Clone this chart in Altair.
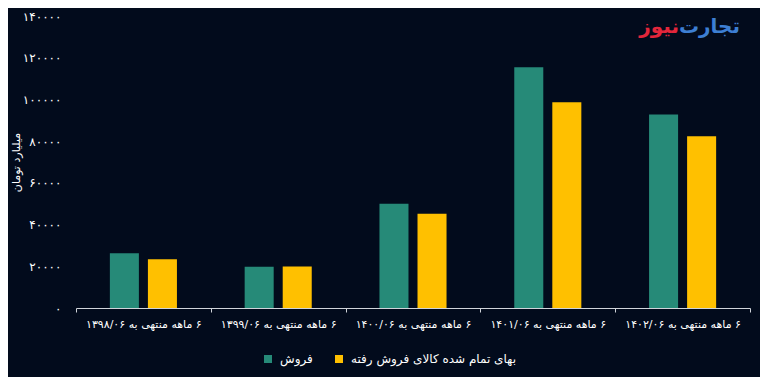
import altair as alt
import pandas as pd

RLM = "\u200f"
periods = [
    RLM + "۶ ماهه منتهی به ۱۳۹۸/۰۶",
    RLM + "۶ ماهه منتهی به ۱۳۹۹/۰۶",
    RLM + "۶ ماهه منتهی به ۱۴۰۰/۰۶",
    RLM + "۶ ماهه منتهی به ۱۴۰۱/۰۶",
    RLM + "۶ ماهه منتهی به ۱۴۰۲/۰۶",
]
series_names = ["فروش", "بهای تمام شده کالای فروش رفته"]
sales = [26200, 19800, 50000, 115400, 92800]
cogs = [23400, 19900, 45200, 98700, 82400]
series_colors = ["#268a78", "#ffc000"]

y_ticks = [0, 20000, 40000, 60000, 80000, 100000, 120000, 140000]
y_tick_labels = ["۰", "۲۰۰۰۰", "۴۰۰۰۰", "۶۰۰۰۰", "۸۰۰۰۰", "۱۰۰۰۰۰", "۱۲۰۰۰۰", "۱۴۰۰۰۰"]
y_title = "میلیارد تومان"

logo_parts = ["تجارت", "نیوز"]
logo_colors = ["#3d7fd3", "#e3263b"]

FONT = "DejaVu Sans"
BG = "#020b1c"

rows = []
for p, s, c in zip(periods, sales, cogs):
    rows.append({"period": p, "series": series_names[0], "value": s})
    rows.append({"period": p, "series": series_names[1], "value": c})
df = pd.DataFrame(rows)

W, H = 674, 292

label_expr = "[" + ",".join("'" + t + "'" for t in y_tick_labels) + "][indexof([" + \
    ",".join(str(v) for v in y_ticks) + "], datum.value)]"

bars = alt.Chart(df).mark_bar().encode(
    x=alt.X(
        "period:N",
        sort=periods,
        title=None,
        scale=alt.Scale(paddingInner=0, paddingOuter=0),
        axis=alt.Axis(
            labelAngle=0,
            labelColor="#ffffff",
            labelFont=FONT,
            labelFontSize=11,
            labelPadding=6,
            labelLimit=200,
            domainColor="#d0d4da",
            tickColor="#d0d4da",
            tickSize=4,
            tickBand="extent",
            grid=False,
        ),
    ),
    xOffset=alt.XOffset(
        "series:N",
        sort=series_names,
        scale=alt.Scale(paddingInner=0.237, paddingOuter=0.89),
    ),
    y=alt.Y(
        "value:Q",
        title=y_title,
        scale=alt.Scale(domain=[0, 140000], nice=False),
        axis=alt.Axis(
            values=y_ticks,
            labelExpr=label_expr,
            labelColor="#ffffff",
            labelFont=FONT,
            labelFontSize=12,
            labelPadding=15,
            ticks=False,
            domain=False,
            grid=False,
            titleColor="#ffffff",
            titleFont=FONT,
            titleFontSize=11,
            titleFontWeight="normal",
            titleAngle=270,
            titleX=-60,
            titleY=H / 2,
            titleAlign="center",
            titleBaseline="middle",
        ),
    ),
    color=alt.Color(
        "series:N",
        scale=alt.Scale(domain=series_names, range=series_colors),
        legend=alt.Legend(
            title=None,
            orient="none",
            direction="horizontal",
            legendX=186,
            legendY=337,
            symbolType="square",
            symbolSize=64,
            symbolStrokeWidth=0,
            labelColor="#ffffff",
            labelFont=FONT,
            labelFontSize=12,
            labelOffset=6,
            columnPadding=20,
            labelLimit=300,
        ),
    ),
)

logo_df = pd.DataFrame({"t": logo_parts, "c": logo_colors})
logo1 = alt.Chart(logo_df.iloc[[0]]).mark_text(
    font=FONT, fontSize=20, fontWeight="bold", align="right", baseline="middle"
).encode(
    text="t:N",
    color=alt.value(logo_colors[0]),
    x=alt.value(664),
    y=alt.value(11),
)
logo2 = alt.Chart(logo_df.iloc[[1]]).mark_text(
    font=FONT, fontSize=20, fontWeight="bold", align="right", baseline="middle"
).encode(
    text="t:N",
    color=alt.value(logo_colors[1]),
    x=alt.value(603),
    y=alt.value(11),
)

chart = alt.layer(bars, logo1, logo2).properties(
    width=W,
    height=H,
    background=BG,
    padding={"left": 68, "top": 8, "right": 10, "bottom": 69},
    autosize=alt.AutoSizeParams(type="none"),
).configure_view(stroke=None)

chart.save("out.html", embed_options={"renderer": "svg", "actions": False})
